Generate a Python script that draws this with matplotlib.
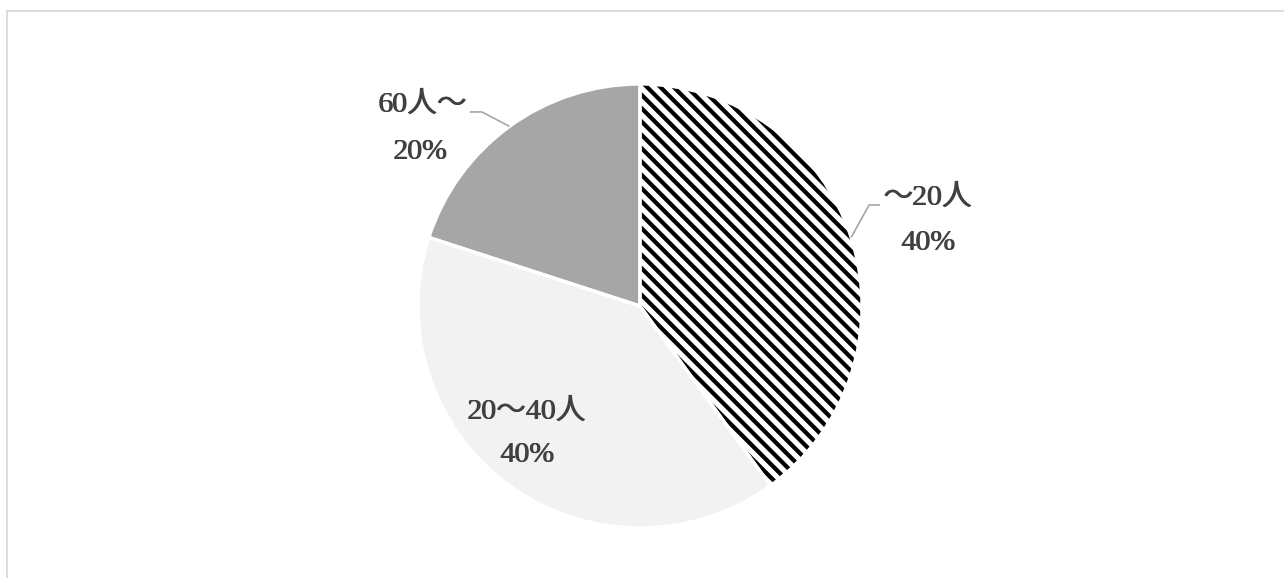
import numpy as np
import matplotlib
matplotlib.use("Agg")
import matplotlib.pyplot as plt
from matplotlib.transforms import offset_copy
from matplotlib.lines import Line2D

# --- data ---
categories = ["～20人", "20～40人", "60人～"]
shares = [40, 40, 20]
colors = ["white", "#f2f2f2", "#a6a6a6"]
hatches = ["\\\\", None, None]

# label layout (data units, pie radius = 1)
name_pos = [(1.297, 0.486), (-0.509, -0.477), (-0.98, 0.905)]
pct_pos = [(1.297, 0.284), (-0.509, -0.671), (-0.99, 0.694)]
leader_pts = [[(1.032, 0.455), (1.081, 0.455)], None, [(-0.712, 0.874), (-0.766, 0.874)]]

W, H = 1284, 578
DPI = 80
cx, cy, R = 640, 306, 222  # pie centre / radius in pixels

plt.rcParams["hatch.linewidth"] = 3.8
fig = plt.figure(figsize=(W / DPI, H / DPI), dpi=DPI)
ax = fig.add_axes([0, 0, 1, 1])

wedges, _ = ax.pie(shares, colors=colors, startangle=90, counterclock=False,
                   wedgeprops=dict(linewidth=0))
for w, h in zip(wedges, hatches):
    if h:
        w.set_hatch(h)
        w.set_edgecolor("black")
        w.set_linewidth(0)

# white separators on top
ax.pie(shares, colors=["none"] * 3, startangle=90, counterclock=False,
       wedgeprops=dict(linewidth=3, edgecolor="white"))

ax.set_xlim(-cx / R, (W - cx) / R)
ax.set_ylim(-(H - cy) / R, cy / R)
ax.set_aspect("auto")
ax.axis("off")

font = dict(family=["Liberation Serif", "Noto Sans CJK JP"], fontsize=26.8,
            color="#404040", ha="center", va="center")
# draw each label twice, slightly shifted, to get the heavier Mincho look
for dx in (-0.4, 0.4):
    tr = offset_copy(ax.transData, fig=fig, x=dx, y=0, units="dots")
    for name, share, npos, ppos in zip(categories, shares, name_pos, pct_pos):
        ax.text(npos[0], npos[1], name, transform=tr, **font)
        ax.text(ppos[0], ppos[1], f"{share}%", transform=tr, **font)

for w, lp in zip(wedges, leader_pts):
    if lp:
        mid = np.deg2rad((w.theta1 + w.theta2) / 2)
        xs = [np.cos(mid)] + [p[0] for p in lp]
        ys = [np.sin(mid)] + [p[1] for p in lp]
        ax.plot(xs, ys, color="#a6a6a6", lw=1.5, solid_capstyle="butt")

# chart area border (partially outside the image)
top = 1 - 11 / H
left = 7 / W
fig.add_artist(Line2D([left, left], [0, top], color="#d9d9d9", lw=1.6,
                      transform=fig.transFigure))
fig.add_artist(Line2D([left, 1], [top, top], color="#d9d9d9", lw=1.6,
                      transform=fig.transFigure))

fig.savefig("out.png", dpi=DPI)
